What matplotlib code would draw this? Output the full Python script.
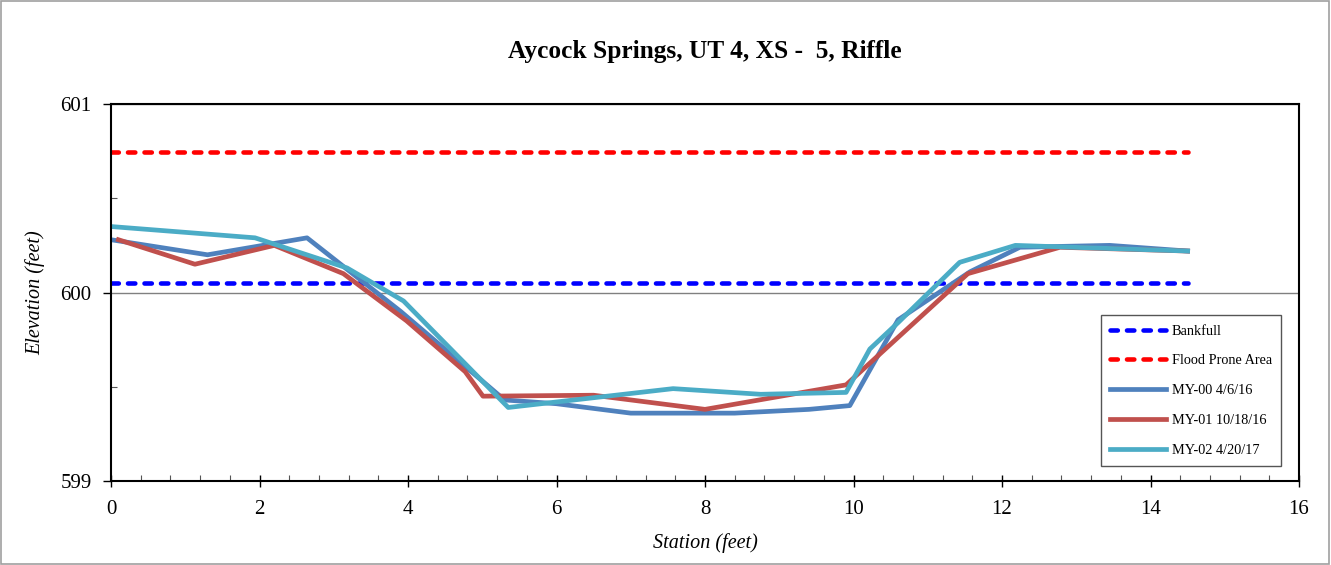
import matplotlib
matplotlib.use('Agg')
import matplotlib.pyplot as plt
from matplotlib.ticker import MultipleLocator
from matplotlib.patches import Rectangle

plt.rcParams['font.family'] = ['Liberation Serif', 'DejaVu Serif']

# bankfull / flood prone elevations
bankfull = 600.05
flood_prone = 600.745
ref_x = [0, 14.5]

# MY-00 4/6/16
my00_x = [0, 1.3, 2.64, 3.9, 5.3, 6.0, 7.0, 8.4, 9.4, 9.95, 10.6, 11.57, 12.24, 13.45, 14.5]
my00_y = [600.28, 600.20, 600.29, 599.90, 599.43, 599.41, 599.36, 599.36, 599.38, 599.40,
          599.855, 600.11, 600.24, 600.25, 600.22]

# MY-01 10/18/16
my01_x = [0.1, 1.13, 2.2, 3.13, 3.98, 4.77, 5.01, 6.5, 8.0, 9.9, 11.54, 12.78, 14.5]
my01_y = [600.28, 600.15, 600.25, 600.10, 599.85, 599.58, 599.45, 599.455, 599.38, 599.51,
          600.10, 600.24, 600.22]

# MY-02 4/20/17
my02_x = [0, 1.94, 3.18, 3.94, 5.35, 7.57, 8.75, 9.9, 10.22, 10.6, 11.43, 12.18, 14.5]
my02_y = [600.35, 600.29, 600.13, 599.955, 599.39, 599.49, 599.46, 599.47, 599.70, 599.84,
          600.16, 600.25, 600.22]

fig = plt.figure(figsize=(13.31, 5.65), dpi=100)
ax = fig.add_axes([111/1331, 1-481/565, (1299-111)/1331, (481-104)/565])

# grey border round the whole chart
fig.patches.append(Rectangle((0.0005, 0.001), 0.998, 0.997, transform=fig.transFigure,
                             fill=False, edgecolor='#a0a0a0', lw=1.2))

dash = dict(lw=3.3, dashes=(1.6, 2.0), dash_capstyle='round')
ax.plot(ref_x, [bankfull, bankfull], color='#0000ff', label='Bankfull', **dash)
ax.plot(ref_x, [flood_prone, flood_prone], color='#ff0000', label='Flood Prone Area', **dash)
ax.plot(my00_x, my00_y, color='#4f81bd', lw=3.4, label='MY-00 4/6/16')
ax.plot(my01_x, my01_y, color='#c0504d', lw=3.4, label='MY-01 10/18/16')
ax.plot(my02_x, my02_y, color='#4bacc6', lw=3.4, label='MY-02 4/20/17')

ax.set_xlim(0, 16)
ax.set_ylim(599, 601)
ax.xaxis.set_major_locator(MultipleLocator(2))
ax.xaxis.set_minor_locator(MultipleLocator(0.4))
ax.yaxis.set_major_locator(MultipleLocator(1))
ax.yaxis.set_minor_locator(MultipleLocator(0.5))
ax.yaxis.grid(True, which='major', color='#808080', lw=1.0)
ax.set_axisbelow(True)

for s in ax.spines.values():
    s.set_linewidth(1.5)
ax.tick_params(axis='x', which='major', direction='inout', length=8, width=1, labelsize=15, pad=10)
ax.tick_params(axis='x', which='minor', direction='in', length=4, width=0.8, color='#555555')
ax.tick_params(axis='y', which='major', direction='out', length=6, width=1, labelsize=15, pad=8)
ax.tick_params(axis='y', which='minor', direction='in', length=4, width=0.8, color='#555555')

ax.set_xlabel('Station (feet)', style='italic', fontsize=14.5, labelpad=10)
ax.set_ylabel('Elevation (feet)', style='italic', fontsize=14.5, labelpad=11)
ax.set_title('Aycock Springs, UT 4, XS -  5, Riffle', fontweight='bold', fontsize=18.3, pad=33)

leg = ax.legend(loc='lower right', bbox_to_anchor=(1281/1331, 1-466/565), bbox_transform=fig.transFigure,
                fontsize=10.3, fancybox=False, framealpha=1, edgecolor='#555555',
                handlelength=3.9, handletextpad=0.4, labelspacing=1.17, borderpad=0.65,
                borderaxespad=0)
leg.get_frame().set_linewidth(1.0)

fig.savefig('out.png', dpi=100)
